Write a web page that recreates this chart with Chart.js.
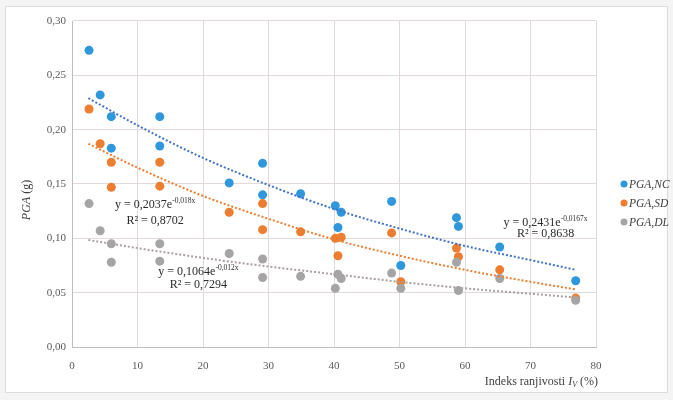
<!DOCTYPE html>
<html>
<head>
<meta charset="utf-8">
<script src="https://cdn.jsdelivr.net/npm/chart.js@4.4.1/dist/chart.umd.min.js"></script>
<style>
  html, body { margin: 0; padding: 0; background: #ffffff; }
  canvas { display: block; }
</style>
</head>
<body>
<canvas id="chart" width="673" height="400"></canvas>
<script>
// vulnerability index Iv (%) of the sites, shared by the three series
const indexV = [2.6, 4.3, 6.0, 6.0, 13.4, 13.4, 24.0, 29.1, 29.1, 34.9, 40.2, 41.1, 40.6, 48.8, 50.2, 58.7, 59.0, 65.3, 76.9];
const pgaNC = [0.273, 0.232, 0.212, 0.183, 0.212, 0.185, 0.151, 0.169, 0.140, 0.141, 0.130, 0.124, 0.110, 0.134, 0.075, 0.119, 0.111, 0.092, 0.061];
const pgaSD = [0.219, 0.187, 0.170, 0.147, 0.170, 0.148, 0.124, 0.132, 0.108, 0.106, 0.100, 0.101, 0.084, 0.105, 0.060, 0.091, 0.083, 0.071, 0.045];
const pgaDL = [0.132, 0.107, 0.095, 0.078, 0.095, 0.079, 0.086, 0.081, 0.064, 0.065, 0.054, 0.063, 0.067, 0.068, 0.054, 0.078, 0.052, 0.063, 0.043];

// trendlines
const trendX = [2.5, 10, 20, 30, 40, 50, 60, 70, 76.9];
const trendNC = [0.229, 0.204, 0.174, 0.149, 0.127, 0.109, 0.093, 0.080, 0.071];
const trendSD = [0.187, 0.165, 0.139, 0.118, 0.099, 0.084, 0.071, 0.060, 0.053];
const trendDL = [0.0985, 0.091, 0.082, 0.074, 0.067, 0.060, 0.054, 0.049, 0.0456];

const seriesNames = ['PGA,NC', 'PGA,SD', 'PGA,DL'];
const xTicks = [0, 10, 20, 30, 40, 50, 60, 70, 80];
const yTicks = ['0,00', '0,05', '0,10', '0,15', '0,20', '0,25', '0,30'];

const equations = [
  { text: 'y = 0,2431e', exp: '-0,0167x', r2: 'R² = 0,8638', x: 72.3, y: 0.1144, y2: 0.1037 },
  { text: 'y = 0,2037e', exp: '-0,018x', r2: 'R² = 0,8702', x: 12.7, y: 0.1307, y2: 0.116 },
  { text: 'y = 0,1064e', exp: '-0,012x', r2: 'R² = 0,7294', x: 19.3, y: 0.0693, y2: 0.057 }
];

const colors = ['#2f97dc', '#ed7d31', '#a5a5a5'];
const trendColors = ['#4472c4', '#ed7d31', '#aaa0a0'];
const serif = '"Liberation Serif", "Times New Roman", serif';

function pts(xs, ys) {
  return xs.map((x, i) => ({ x: x, y: ys[i] }));
}

const pageDecor = {
  id: 'pageDecor',
  beforeDraw(chart) {
    const c = chart.ctx;
    c.save();
    c.fillStyle = '#f4f4f4';
    c.fillRect(0, 0, chart.width, chart.height);
    c.fillStyle = '#ffffff';
    c.fillRect(5, 6, 662, 386);
    c.strokeStyle = '#dcdcdc';
    c.lineWidth = 1;
    c.strokeRect(5.5, 6.5, 662, 386);
    c.restore();
  },
  afterDraw(chart) {
    const c = chart.ctx;
    const xs = chart.scales.x, ys = chart.scales.y;
    c.save();
    c.textBaseline = 'middle';

    // equations
    c.fillStyle = '#2b2b2b';
    equations.forEach(eq => {
      c.font = '12px ' + serif;
      const w1 = c.measureText(eq.text).width;
      c.font = '7.5px ' + serif;
      const w2 = c.measureText(eq.exp).width;
      const cx = xs.getPixelForValue(eq.x);
      const cy = ys.getPixelForValue(eq.y);
      const left = cx - (w1 + w2) / 2;
      c.textAlign = 'left';
      c.font = '12px ' + serif;
      c.fillText(eq.text, left, cy);
      c.font = '7.5px ' + serif;
      c.fillText(eq.exp, left + w1, cy - 4);
      c.font = '12px ' + serif;
      c.textAlign = 'center';
      c.fillText(eq.r2, cx, ys.getPixelForValue(eq.y2));
    });

    c.fillStyle = '#404040';
    // y axis title
    c.save();
    c.translate(27, 200);
    c.rotate(-Math.PI / 2);
    c.font = 'italic 12px ' + serif;
    const a = 'PGA';
    const wa = c.measureText(a).width;
    c.font = '12px ' + serif;
    const b = ' (g)';
    const wb = c.measureText(b).width;
    c.textAlign = 'left';
    c.font = 'italic 12px ' + serif;
    c.fillText(a, -(wa + wb) / 2, 0);
    c.font = '12px ' + serif;
    c.fillText(b, -(wa + wb) / 2 + wa, 0);
    c.restore();

    // x axis title, right aligned to plot
    const parts = [
      { t: 'Indeks ranjivosti ', f: '12px ', dy: 0 },
      { t: 'I', f: 'italic 12px ', dy: 0 },
      { t: 'V', f: 'italic 8px ', dy: 3 },
      { t: ' (%)', f: '12px ', dy: 0 }
    ];
    let total = 0;
    parts.forEach(p => { c.font = p.f + serif; p.w = c.measureText(p.t).width; total += p.w; });
    let px = chart.chartArea.right + 2 - total;
    c.textAlign = 'left';
    parts.forEach(p => {
      c.font = p.f + serif;
      c.fillText(p.t, px, 382 + p.dy);
      px += p.w;
    });

    // legend
    seriesNames.forEach((name, i) => {
      const ly = 184 + i * 19;
      c.beginPath();
      c.fillStyle = colors[i];
      c.arc(624, ly, 3.5, 0, Math.PI * 2);
      c.fill();
      c.fillStyle = '#404040';
      c.font = 'italic 11.5px ' + serif;
      c.textAlign = 'left';
      c.fillText(name, 629, ly + 1);
    });
    c.restore();
  }
};

const scatterSet = (label, ys, i, order) => ({
  label: label,
  data: pts(indexV, ys),
  backgroundColor: colors[i],
  borderColor: colors[i],
  pointRadius: 4.5,
  pointBorderWidth: 0,
  showLine: false,
  order: order
});

const trendSet = (ys, i) => ({
  label: 'trend ' + seriesNames[i],
  data: pts(trendX, ys),
  borderColor: trendColors[i],
  borderWidth: 2,
  borderDash: [2, 2],
  pointRadius: 0,
  showLine: true,
  cubicInterpolationMode: 'monotone',
  order: 0
});

const ctx = document.getElementById('chart').getContext('2d');
const chart = new Chart(ctx, {
  type: 'scatter',
  data: {
    datasets: [
      scatterSet(seriesNames[0], pgaNC, 0, 3),
      scatterSet(seriesNames[1], pgaSD, 1, 2),
      scatterSet(seriesNames[2], pgaDL, 2, 1),
      trendSet(trendNC, 0),
      trendSet(trendSD, 1),
      trendSet(trendDL, 2)
    ]
  },
  options: {
    responsive: false,
    animation: false,
    devicePixelRatio: 1,
    layout: { padding: { top: 21, right: 77, left: 0, bottom: 0 } },
    plugins: {
      legend: { display: false },
      tooltip: { enabled: false }
    },
    scales: {
      x: {
        type: 'linear',
        min: 0,
        max: 80,
        afterBuildTicks: (scale) => { scale.ticks = xTicks.map(v => ({ value: v })); },
        afterFit: (scale) => { scale.height = 53; },
        ticks: {
          padding: 13,
          color: '#595959',
          font: { family: serif, size: 11 },
          callback: (v) => String(v)
        },
        grid: { color: '#e2dada', lineWidth: 1, drawTicks: false },
        border: { color: '#bfbfbf' }
      },
      y: {
        type: 'linear',
        min: 0,
        max: 0.3,
        afterBuildTicks: (scale) => { scale.ticks = yTicks.map((t, i) => ({ value: i * 0.05 })); },
        afterFit: (scale) => { scale.width = 72; },
        ticks: {
          padding: 6,
          color: '#595959',
          font: { family: serif, size: 11 },
          callback: (v, i) => yTicks[i]
        },
        grid: { color: '#e2dada', lineWidth: 1, drawTicks: false },
        border: { color: '#bfbfbf' }
      }
    }
  },
  plugins: [pageDecor]
});
</script>
</body>
</html>
